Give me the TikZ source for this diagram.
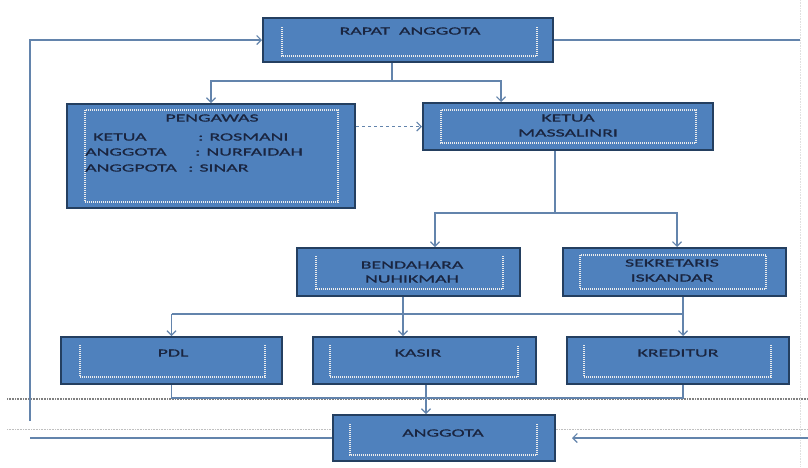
\documentclass[tikz,border=0pt]{standalone}
\usepackage{fontspec}
\newfontfamily\boxfont[FakeStretch=1.8,FakeBold=0.9]{Carlito}
\usetikzlibrary{arrows.meta,calc}
\definecolor{boxfill}{HTML}{4F81BD}
\definecolor{boxline}{HTML}{243F60}
\definecolor{txtc}{HTML}{1A2540}
\definecolor{conn}{HTML}{6384AC}
\begin{document}
\begin{tikzpicture}[x=1pt,y=-1pt,
  box/.style={draw=boxline, line width=2pt, fill=boxfill, inner sep=0pt},
  dots/.style={draw=white!85!gray, line width=1.2pt, dash pattern=on 1pt off 1pt},
  ln/.style={draw=conn, line width=1.1pt},
  arr/.style={draw=conn, line width=1.1pt, -{Straight Barb[length=4.5pt,width=9pt]}},
  tx/.style={text=txtc, font=\boxfont\fontsize{11}{13}\selectfont, inner sep=0pt, text height=7.1pt, text depth=0pt},
  sepline/.style={draw=black!50, line width=2pt, dash pattern=on 0.8pt off 0.8pt}]
\useasboundingbox (0,0) rectangle (808,467);
\fill[white] (0,0) rectangle (808,467);
% page artefacts
\draw[black!12, densely dotted, line width=0.6pt] (800,0) -- (800,467);
\draw[sepline] (7,399) -- (808,399);
\draw[black!25, densely dotted, line width=0.6pt] (7,429) -- (808,429);
% boxes
\node[box, minimum width=290pt, minimum height=44pt] (rapat) at (408,40) {};
\node[box, minimum width=288pt, minimum height=104pt] (pengawas) at (211,156) {};
\node[box, minimum width=290pt, minimum height=47pt] (ketua) at (568,126.5) {};
\node[box, minimum width=223pt, minimum height=48pt] (bendahara) at (408.5,272) {};
\node[box, minimum width=223pt, minimum height=48pt] (sekretaris) at (674.5,272) {};
\node[box, minimum width=221pt, minimum height=47pt] (pdl) at (171.5,360.5) {};
\node[box, minimum width=223pt, minimum height=47pt] (kasir) at (424.5,360.5) {};
\node[box, minimum width=222pt, minimum height=47pt] (kreditur) at (678,360.5) {};
\node[box, minimum width=222pt, minimum height=46pt] (anggota) at (444,438) {};
% inner dotted frames
\draw[dots] (282,27) -- (282,56) -- (537,56) -- (537,27);
\draw[dots] (85,110) rectangle (338,202);
\draw[dots] (441,110) rectangle (696,143);
\draw[dots] (316,256) -- (316,289) -- (503,289) -- (503,256);
\draw[dots] (580,255) rectangle (766,289);
\draw[dots] (80,345) -- (80,377) -- (265,377) -- (265,345);
\draw[dots] (330,345) -- (330,377) -- (518,377) -- (518,345);
\draw[dots] (584,345) -- (584,377) -- (771,377) -- (771,345);
\draw[dots] (350,424) -- (350,455) -- (537,455) -- (537,424);
% texts
\node[tx] (trapat) at (410,31) {RAPAT\ \ ANGGOTA};
\node[tx] (tpeng) at (212,118) {PENGAWAS};
\node[tx, anchor=west] (tk1) at (93,137) {KETUA};
\node[tx, anchor=west] (tk2) at (198,137) {: ROSMANI};
\node[tx, anchor=west] (ta1) at (85,152) {ANGGOTA};
\node[tx, anchor=west] (ta2) at (195,152) {: NURFAIDAH};
\node[tx, anchor=west] (tb1) at (85,168) {ANGGPOTA};
\node[tx, anchor=west] (tb2) at (188,168) {: SINAR};
\node[tx] (tket1) at (568,118) {KETUA};
\node[tx] (tket2) at (568,133) {MASSALINRI};
\node[tx] (tben1) at (412,265) {BENDAHARA};
\node[tx] (tben2) at (412,279) {NUHIKMAH};
\node[tx] (tsek1) at (672,263) {SEKRETARIS};
\node[tx] (tsek2) at (672,278) {ISKANDAR};
\node[tx] (tpdl) at (173,353) {PDL};
\node[tx] (tkas) at (418,353) {KASIR};
\node[tx] (tkre) at (678,353) {KREDITUR};
\node[tx] (tang) at (443,433) {ANGGOTA};
% connectors
\coordinate (j1) at (392,81);
\coordinate (kA) at (501,0);
\draw[ln] (rapat.south -| j1) -- (j1);
\draw[arr] (j1) -| (pengawas.north);
\draw[arr] (j1) -| (ketua.north -| kA);
\draw[arr, dashed] (pengawas.east |- ketua.west) -- (ketua.west);
\coordinate (j2) at (555,213);
\coordinate (bA) at (435,0);
\coordinate (sA) at (677,0);
\draw[ln] (ketua.south -| j2) -- (j2);
\draw[arr] (j2) -| (bendahara.north -| bA);
\draw[arr] (j2) -| (sekretaris.north -| sA);
\coordinate (j3) at (403,314);
\coordinate (j4) at (683,314);
\draw[ln] (bendahara.south -| j3) -- (j3);
\draw[ln] (sekretaris.south -| j4) -- (j4);
\draw[ln] (pdl.north |- j3) -- (j4);
\draw[arr] (pdl.north |- j3) -- (pdl.north);
\draw[arr] (j3) -- (kasir.north -| j3);
\draw[arr] (j4) -- (kreditur.north -| j4);
\coordinate (j5) at (426,398);
\coordinate (j6) at (683,398);
\draw[ln] (pdl.south) -- (pdl.south |- j6) -- (j6) -- (kreditur.south -| j6);
\draw[arr] (kasir.south -| j5) -- (anggota.north -| j5);
\coordinate (l1) at (30,421);
\draw[arr] (l1) |- (rapat.west);
\draw[ln] (anggota.west) -- (anggota.west -| l1);
\coordinate (r1) at (800,0);
\draw[ln] (rapat.east) -- (rapat.east -| r1);
\coordinate (r2) at (808,438);
\draw[arr, shorten >=16pt] (r2) -- (anggota.east);
\end{tikzpicture}
\end{document}
